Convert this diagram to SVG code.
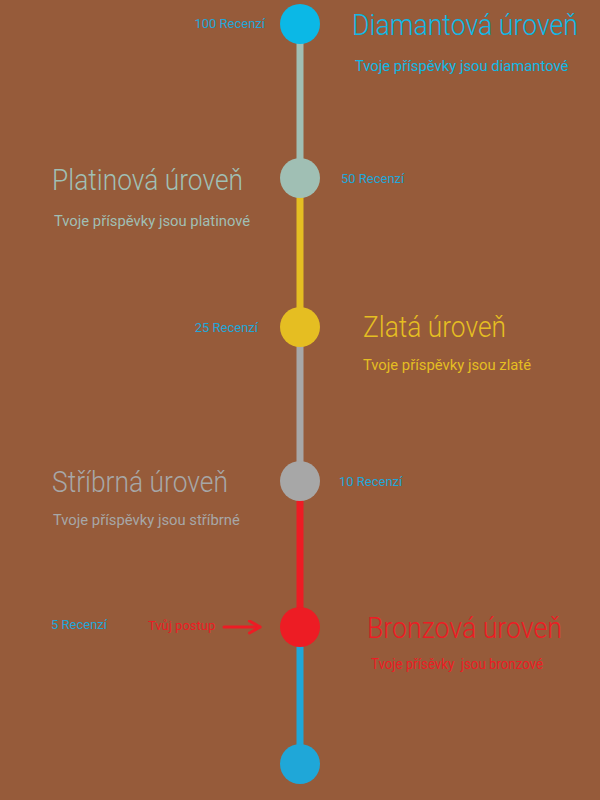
<svg xmlns="http://www.w3.org/2000/svg" width="600" height="800" viewBox="0 0 600 800">
  <style>
    .title { font-family: Roboto, "Liberation Sans", sans-serif; font-size: 30px; font-weight: 300; }
    .sub { font-family: Roboto, "Liberation Sans", sans-serif; font-size: 14.8px; }
    .count { font-family: Roboto, "Liberation Sans", sans-serif; font-size: 13px; fill: #22A6D8; }
    .seg { stroke-width: 7; }
  </style>
  <defs>
    <marker id="chevron" viewBox="0 0 10 10" refX="9" refY="5" markerWidth="5" markerHeight="5" orient="auto" markerUnits="strokeWidth">
      <path d="M2,1 L9,5 L2,9" fill="none" stroke="#ED1C24" stroke-width="2" stroke-linecap="round" stroke-linejoin="round"/>
    </marker>
  </defs>
  <rect width="600" height="800" fill="#965B3A"/>

  <!-- timeline segments -->
  <g id="connectors">
    <line class="seg" x1="300" y1="24" x2="300" y2="178" stroke="#A0BFB4"/>
    <line class="seg" x1="300" y1="178" x2="300" y2="327" stroke="#E5BE22"/>
    <line class="seg" x1="300" y1="327" x2="300" y2="481" stroke="#A7A7A7"/>
    <line class="seg" x1="300" y1="481" x2="300" y2="627" stroke="#ED1C24"/>
    <line class="seg" x1="300" y1="627" x2="300" y2="764" stroke="#1FA7D8"/>
    <line x1="224" y1="627" x2="260" y2="627" stroke="#ED1C24" stroke-width="3" stroke-linecap="round" marker-end="url(#chevron)"/>
  </g>

  <g id="diamond">
    <circle cx="300" cy="24" r="20" fill="#0BB8E6"/>
    <text class="count" x="265" y="28" text-anchor="end">100 Recenzí</text>
    <text class="title" x="352" y="35" fill="#10B8E6" textLength="226" lengthAdjust="spacingAndGlyphs">Diamantová úroveň</text>
    <text class="sub" x="355" y="71" fill="#10B8E6">Tvoje příspěvky jsou diamantové</text>
  </g>

  <g id="platinum">
    <circle cx="300" cy="178" r="20" fill="#A0BFB4"/>
    <text class="count" x="341" y="183">50 Recenzí</text>
    <text class="title" x="52" y="190" fill="#A0BFB4" textLength="191" lengthAdjust="spacingAndGlyphs">Platinová úroveň</text>
    <text class="sub" x="54" y="226" fill="#A0BFB4">Tvoje příspěvky jsou platinové</text>
  </g>

  <g id="gold">
    <circle cx="300" cy="327" r="20" fill="#E5BE22"/>
    <text class="count" x="258" y="332" text-anchor="end">25 Recenzí</text>
    <text class="title" x="363" y="337" fill="#E5BE22" textLength="143" lengthAdjust="spacingAndGlyphs">Zlatá úroveň</text>
    <text class="sub" x="363" y="370" fill="#E5BE22">Tvoje příspěvky jsou zlaté</text>
  </g>

  <g id="silver">
    <circle cx="300" cy="481" r="20" fill="#A7A7A7"/>
    <text class="count" x="339" y="486">10 Recenzí</text>
    <text class="title" x="52" y="492" fill="#A7A7A7" textLength="176" lengthAdjust="spacingAndGlyphs">Stříbrná úroveň</text>
    <text class="sub" x="53" y="525" fill="#A7A7A7">Tvoje příspěvky jsou stříbrné</text>
  </g>

  <g id="bronze">
    <circle cx="300" cy="627" r="20" fill="#ED1C24"/>
    <text class="count" x="51" y="629">5 Recenzí</text>
    <text class="count" x="148" y="630" style="fill:#ED1C24">Tvůj postup</text>
    <text class="title" x="367" y="638" fill="#ED1C24" textLength="195" lengthAdjust="spacingAndGlyphs">Bronzová úroveň</text>
    <text class="sub" x="371" y="669" fill="#ED1C24" textLength="172" lengthAdjust="spacingAndGlyphs" xml:space="preserve">Tvoje přísěvky  jsou bronzové</text>
  </g>

  <g id="start">
    <circle cx="300" cy="764" r="20" fill="#1FA7D8"/>
  </g>
</svg>
